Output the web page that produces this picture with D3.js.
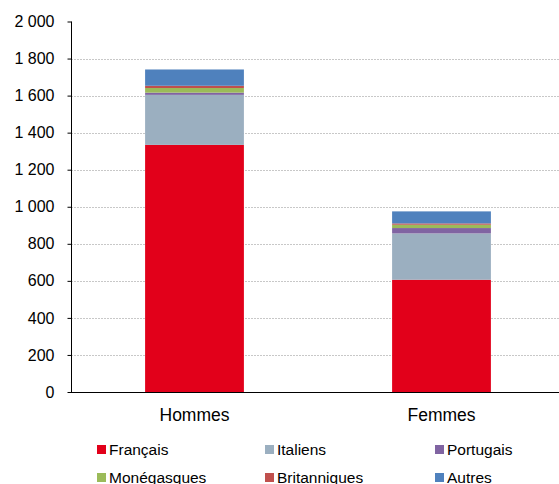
<!DOCTYPE html>
<html>
<head>
<meta charset="utf-8">
<script src="https://cdn.jsdelivr.net/npm/d3@7"></script>
<style>
  body { margin: 0; background: #fff; }
  text { font-family: "Liberation Sans", Arial, sans-serif; }
</style>
</head>
<body>
<div id="chart"></div>
<script>
// data
let categories = ['Hommes', 'Femmes'];
let seriesNames = ['Français', 'Italiens', 'Portugais', 'Monégasques', 'Britanniques', 'Autres'];
let francais = [1334, 606];
let italiens = [270, 250];
let portugais = [12, 29];
let monegasques = [25, 18];
let britanniques = [12, 7];
let autres = [88, 65];
let yTicks = [0, 200, 400, 600, 800, 1000, 1200, 1400, 1600, 1800, 2000];
let colors = ['#e2001a', '#9bafc0', '#8064a2', '#9bbb59', '#c0504d', '#4f81bd'];

let width = 559, height = 484;
let margin = { top: 21.5, left: 71, bottom: 92, right: 0 };

let svg = d3.select('#chart').append('svg')
    .attr('width', width)
    .attr('height', height);

let rows = categories.map(function (c, i) {
    return {
        cat: c,
        'Français': francais[i],
        'Italiens': italiens[i],
        'Portugais': portugais[i],
        'Monégasques': monegasques[i],
        'Britanniques': britanniques[i],
        'Autres': autres[i]
    };
});

let x = d3.scaleBand()
    .domain(categories)
    .range([margin.left, margin.left + 494])
    .paddingInner(0.6)
    .paddingOuter(0.3);

let y = d3.scaleLinear()
    .domain([0, 2000])
    .range([height - margin.bottom, margin.top]);

let fmt = function (d) { return d3.format(',')(d).replace(/,/g, ' '); };

// grid lines
svg.append('g')
    .selectAll('line')
    .data(yTicks.filter(function (d) { return d > 0 && d < 2000; }))
    .enter().append('line')
    .attr('x1', margin.left)
    .attr('x2', width)
    .attr('y1', function (d) { return Math.round(y(d)) + 0.5; })
    .attr('y2', function (d) { return Math.round(y(d)) + 0.5; })
    .style('stroke', '#c8c8c8')
    .style('stroke-dasharray', '2,1');

// stacked bars
let stack = d3.stack().keys(seriesNames);
let layers = stack(rows);

svg.append('g')
    .selectAll('g')
    .data(layers)
    .enter().append('g')
    .style('fill', function (d, i) { return colors[i]; })
    .selectAll('rect')
    .data(function (d) { return d; })
    .enter().append('rect')
    .attr('x', function (d) { return x(d.data.cat); })
    .attr('width', x.bandwidth())
    .attr('y', function (d) { return y(d[1]); })
    .attr('height', function (d) { return y(d[0]) - y(d[1]); });

// y axis
let yAxis = d3.axisLeft(y)
    .tickValues(yTicks)
    .tickSize(4)
    .tickFormat(fmt);

let gy = svg.append('g')
    .attr('transform', 'translate(' + (margin.left + 0.5) + ',0)')
    .call(yAxis);
gy.select('.domain').attr('d', 'M0,' + y(2000) + 'V' + y(0)).style('stroke', '#000');
gy.selectAll('.tick line').style('stroke', '#000');
gy.selectAll('.tick text')
    .attr('x', -17)
    .style('font-size', '16px')
    .style('fill', '#000')
    .style('font-family', '"Liberation Sans", Arial, sans-serif');

// x axis
let xAxis = d3.axisBottom(x).tickSize(0);
let gx = svg.append('g')
    .attr('transform', 'translate(0,' + (Math.round(y(0)) + 0.5) + ')')
    .call(xAxis);
gx.select('.domain').attr('d', 'M' + margin.left + ',0H' + width).style('stroke', '#000');
gx.selectAll('.tick text')
    .attr('dy', null)
    .attr('y', 28)
    .style('font-size', '17.5px')
    .style('fill', '#000')
    .style('font-family', '"Liberation Sans", Arial, sans-serif');

// legend
let legendX = [97, 265, 435];
let legendY = [450, 478];
let legend = svg.append('g')
    .selectAll('g')
    .data(seriesNames)
    .enter().append('g')
    .attr('transform', function (d, i) {
        return 'translate(' + legendX[i % 3] + ',' + legendY[Math.floor(i / 3)] + ')';
    });
legend.append('rect')
    .attr('x', 0)
    .attr('y', -5)
    .attr('width', 9)
    .attr('height', 9)
    .style('fill', function (d, i) { return colors[i]; });
legend.append('text')
    .attr('x', 12)
    .attr('y', 5)
    .style('font-size', '15.5px')
    .text(function (d) { return d; });
</script>
</body>
</html>
